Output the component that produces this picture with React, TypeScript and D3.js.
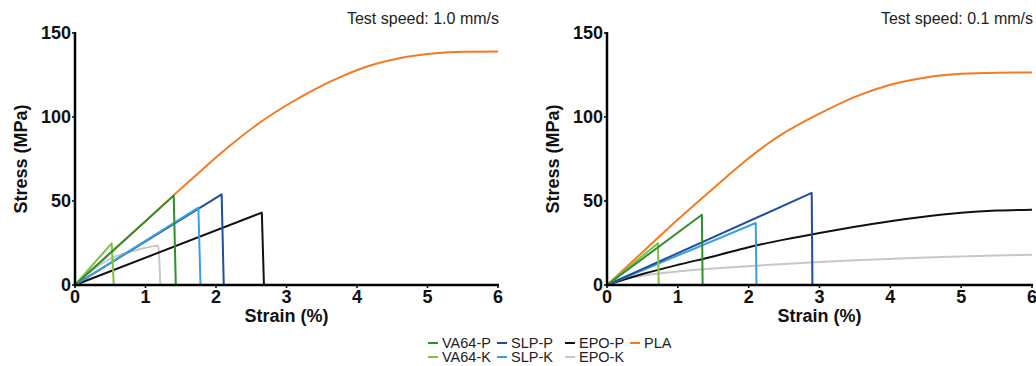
import React from "react";
import * as d3 from "d3";

// ---------- data (strain %, stress MPa) ----------
const xTicks = [0, 1, 2, 3, 4, 5, 6];
const yTicks = [0, 50, 100, 150];

// Test speed 1.0 mm/s
const fastVA64P: [number, number][] = [[0, 0], [1.4, 53.2], [1.43, 0]];
const fastVA64K: [number, number][] = [[0, 0], [0.52, 24.8], [0.55, 0]];
const fastSLPP: [number, number][] = [[0, 0], [2.08, 54], [2.11, 0]];
const fastSLPK: [number, number][] = [[0, 0], [1.75, 46], [1.78, 0]];
const fastEPOP: [number, number][] = [[0, 0], [2.65, 43.1], [2.68, 0]];
const fastEPOK: [number, number][] = [[0, 0], [0.25, 9], [0.52, 16], [0.85, 20.5], [1.18, 23.4], [1.21, 0]];
const fastPLA: [number, number][] = [
  [0, 0], [0.5, 19], [1, 38], [1.4, 53.5], [1.8, 68.5], [2.2, 83], [2.6, 96], [3.0, 107],
  [3.4, 116.5], [3.8, 124.5], [4.2, 130.8], [4.6, 135], [5.0, 137.5], [5.5, 138.8], [6, 139],
];

// Test speed 0.1 mm/s
const slowVA64P: [number, number][] = [[0, 0], [1.34, 41.8], [1.35, 0]];
const slowVA64K: [number, number][] = [[0, 0], [0.72, 24.9], [0.73, 0]];
const slowSLPP: [number, number][] = [[0, 0], [2.89, 54.8], [2.9, 0]];
const slowSLPK: [number, number][] = [[0, 0], [2.1, 36.9], [2.11, 0]];
const slowEPOP: [number, number][] = [
  [0, 0], [0.5, 6.5], [1, 12], [1.5, 17], [2, 22.5], [2.5, 27], [3, 31], [3.5, 34.7],
  [4, 38], [4.5, 40.8], [5, 43], [5.5, 44.3], [6, 44.8],
];
const slowEPOK: [number, number][] = [
  [0, 0], [0.25, 3.5], [0.5, 5.5], [1, 8], [1.5, 9.8], [2, 11.2], [2.5, 12.5], [3, 13.7],
  [3.5, 14.7], [4, 15.5], [4.5, 16.3], [5, 17], [5.5, 17.6], [6, 18],
];
const slowPLA: [number, number][] = [
  [0, 0], [0.5, 19.5], [1, 39], [1.5, 57.5], [2, 75.5], [2.25, 83.5], [2.5, 90.5], [2.75, 96.5],
  [3, 102], [3.5, 112], [4, 119.2], [4.5, 123.5], [5, 125.7], [5.5, 126.4], [6, 126.5],
];

const seriesNames = ["VA64-P", "SLP-P", "EPO-P", "PLA", "VA64-K", "SLP-K", "EPO-K"];
const seriesColors: Record<string, string> = {
  "VA64-P": "#2f8f2f",
  "VA64-K": "#7cc242",
  "SLP-P": "#1f4f9c",
  "SLP-K": "#3a9fdc",
  "EPO-P": "#111111",
  "EPO-K": "#c8c8c8",
  PLA: "#f47a20",
};

const panels = [
  {
    title: "Test speed: 1.0 mm/s",
    left: 75,
    right: 498,
    series: { PLA: fastPLA, "EPO-K": fastEPOK, "EPO-P": fastEPOP, "SLP-P": fastSLPP, "SLP-K": fastSLPK, "VA64-K": fastVA64K, "VA64-P": fastVA64P },
  },
  {
    title: "Test speed: 0.1 mm/s",
    left: 607,
    right: 1032,
    series: { PLA: slowPLA, "EPO-K": slowEPOK, "EPO-P": slowEPOP, "SLP-K": slowSLPK, "SLP-P": slowSLPP, "VA64-K": slowVA64K, "VA64-P": slowVA64P },
  },
];

const TOP = 33;
const BOTTOM = 285;
const FONT = "'Liberation Sans', Arial, sans-serif";

function Panel({ p }: { p: (typeof panels)[number] }) {
  const x = d3.scaleLinear().domain([0, 6]).range([p.left, p.right]);
  const y = d3.scaleLinear().domain([0, 150]).range([BOTTOM, TOP]);
  const smooth = d3
    .line<[number, number]>()
    .x((d) => x(d[0]))
    .y((d) => y(d[1]))
    .curve(d3.curveMonotoneX);
  const straight = d3
    .line<[number, number]>()
    .x((d) => x(d[0]))
    .y((d) => y(d[1]));
  return (
    <g>
      {Object.entries(p.series).map(([name, data]) => (
        <path
          key={name}
          d={((data as [number, number][]).length > 3 ? smooth : straight)(data as [number, number][]) || ""}
          fill="none"
          stroke={seriesColors[name]}
          strokeWidth={2}
          strokeLinejoin="round"
        />
      ))}
      {/* axes */}
      <line x1={p.left} x2={p.left} y1={TOP - 1} y2={BOTTOM + 1.5} stroke="#000" strokeWidth={2.5} />
      <line x1={p.left - 1} x2={p.right + 1} y1={BOTTOM} y2={BOTTOM} stroke="#000" strokeWidth={2.5} />
      {yTicks.map((t) => (
        <g key={"y" + t}>
          <line x1={p.left - 3} x2={p.left} y1={y(t)} y2={y(t)} stroke="#000" strokeWidth={1.5} />
          <text x={p.left - 4} y={y(t)} dy="0.36em" textAnchor="end" fontFamily={FONT} fontWeight="bold" fontSize={18} fill="#111">
            {t}
          </text>
        </g>
      ))}
      {xTicks.map((t) => (
        <g key={"x" + t}>
          <line x1={x(t)} x2={x(t)} y1={BOTTOM} y2={BOTTOM + 3} stroke="#000" strokeWidth={1.5} />
          <text x={x(t)} y={BOTTOM + 18} textAnchor="middle" fontFamily={FONT} fontWeight="bold" fontSize={18} fill="#111">
            {t}
          </text>
        </g>
      ))}
      <text x={(p.left + p.right) / 2} y={322} textAnchor="middle" fontFamily={FONT} fontWeight="bold" fontSize={18} fill="#111">
        Strain (%)
      </text>
      <text
        transform={`translate(${p.left - 48},${(TOP + BOTTOM) / 2}) rotate(-90)`}
        textAnchor="middle"
        fontFamily={FONT}
        fontWeight="bold"
        fontSize={18}
        fill="#111"
      >
        Stress (MPa)
      </text>
      <text x={p.right + 1} y={24} textAnchor="end" fontFamily={FONT} fontSize={16} fill="#222">
        {p.title}
      </text>
    </g>
  );
}

const legendCols = [428, 497, 565, 630];

export default function App() {
  return (
    <svg width={1036} height={366} style={{ position: "absolute", left: 0, top: 0, background: "#fff" }}>
      <rect width={1036} height={366} fill="#fff" />
      {panels.map((p, i) => (
        <Panel key={i} p={p} />
      ))}
      {seriesNames.map((name, i) => {
        const col = i < 4 ? i : i - 4;
        const row = i < 4 ? 0 : 1;
        const lx = legendCols[col];
        const ly = 343 + row * 14;
        return (
          <g key={name}>
            <line x1={lx} x2={lx + 10} y1={ly} y2={ly} stroke={seriesColors[name]} strokeWidth={2} />
            <text x={lx + 14} y={ly} dy="0.35em" fontFamily={FONT} fontSize={14.5} fill="#222">
              {name}
            </text>
          </g>
        );
      })}
    </svg>
  );
}
